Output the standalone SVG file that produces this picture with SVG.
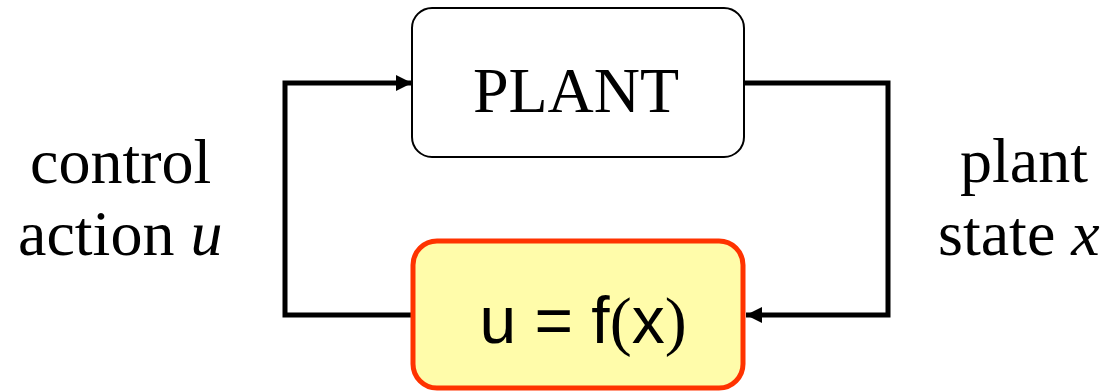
<svg xmlns="http://www.w3.org/2000/svg" width="1106" height="391" viewBox="0 0 1106 391">
  <style>
    .conn { fill: none; stroke: #000; stroke-width: 5; stroke-linejoin: miter; }
    .serif { font-family: "Liberation Serif", "Times New Roman", serif; font-size: 64px; fill: #000; }
    .sans { font-family: "Liberation Sans", Arial, sans-serif; font-size: 66px; fill: #000; }
  </style>
  <defs>
    <marker id="arrow" markerUnits="userSpaceOnUse" markerWidth="18" markerHeight="18" viewBox="0 0 18 18" refX="16" refY="9" orient="auto">
      <path d="M0,1 L16,9 L0,17 Z" fill="#000"/>
    </marker>
  </defs>
  <rect width="1106" height="391" fill="#fff"/>
  <g id="connectors">
    <path class="conn" d="M411,315 H285 V83 H412" marker-end="url(#arrow)"/>
    <path class="conn" d="M744,83 H888 V315 H746" marker-end="url(#arrow)"/>
  </g>
  <g id="plant">
    <rect x="412" y="8" width="332" height="149" rx="20" ry="20" fill="#fff" stroke="#000" stroke-width="2"/>
    <text class="serif" x="576" y="112" text-anchor="middle">PLANT</text>
  </g>
  <g id="controller">
    <rect x="413" y="241" width="330" height="147" rx="24" ry="24" fill="#FFFCAA" stroke="#FF3300" stroke-width="5"/>
    <text class="sans" x="583" y="343" text-anchor="middle">u = f<tspan font-family="Liberation Serif, serif">(</tspan>x<tspan font-family="Liberation Serif, serif">)</tspan></text>
  </g>
  <g id="label-control">
    <text class="serif" x="30" y="183">control</text>
    <text class="serif" x="18" y="255">action <tspan font-style="italic">u</tspan></text>
  </g>
  <g id="label-state">
    <text class="serif" x="960" y="182">plant</text>
    <text class="serif" x="938" y="255">state <tspan font-style="italic">x</tspan></text>
  </g>
</svg>
